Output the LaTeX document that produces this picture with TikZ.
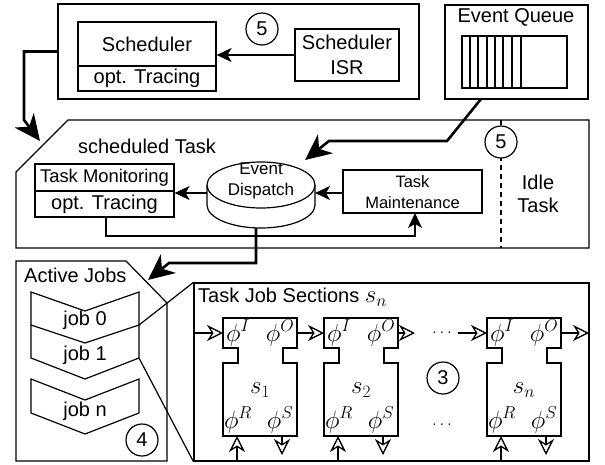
\documentclass[tikz,border=0pt]{standalone}
\usepackage[no-math]{fontspec}
\setmainfont{Liberation Sans}
\usetikzlibrary{arrows.meta}
\newcommand\jsec[3]{%
  \draw[secbox] (#2,318) -- (#2+74,318) -- (#2+74,348) -- (#2+60,348) -- (#2+60,363) -- (#2+74,363)
     -- (#2+74,436) -- (#2,436) -- (#2,363) -- (#2+15,363) -- (#2+15,348) -- (#2,348) -- cycle;
  \coordinate (#1in) at (#2,333);
  \coordinate (#1out) at (#2+74,333);
  \coordinate (#1r) at (#2+14,436);
  \coordinate (#1s) at (#2+59,436);
  \coordinate (#1rb) at (#2+14,460);
  \coordinate (#1sb) at (#2+59,455);
  \node[mlbl] (#1I) at (#2+15,333) {$\phi^I$};
  \node[mlbl] (#1O) at (#2+57,333) {$\phi^O$};
  \node[mlbl] (#1lab) at (#2+37,390) {$s_{#3}$};
  \node[mlbl] (#1R) at (#2+15,420) {$\phi^R$};
  \node[mlbl] (#1S) at (#2+57,420) {$\phi^S$};
  \draw[openarr] (#1rb) -- (#1r);
  \draw[openarr] (#1s) -- (#1sb);
}
\begin{document}
\begin{tikzpicture}[x=1pt,y=-1pt,
  box/.style={draw,line width=1.2pt,inner sep=0pt,fill=white},
  lbl/.style={inner sep=0pt,font=\fontsize{20}{23}\selectfont,align=center},
  mlbl/.style={inner sep=0pt,font=\fontsize{23}{25}\selectfont},
  circ/.style={draw,circle,line width=1.2pt,minimum size=32pt,inner sep=0pt,fill=white,font=\fontsize{20}{23}\selectfont},
  thinarr/.style={line width=1.2pt,-{Stealth[length=15pt,width=14pt,inset=4pt]}},
  thickarr/.style={line width=2.6pt,-{Stealth[length=26pt,width=24pt,inset=8pt]}},
  openarr/.style={line width=1.3pt,-{Stealth[open,length=16pt,width=16pt,inset=5pt]}},
  secbox/.style={draw,line width=1.8pt}]
\useasboundingbox (0,0) rectangle (605,464);

% ---------- top box ----------
\node[box,minimum width=361pt,minimum height=95pt] (top) at (238.5,51.5) {};
\node[box,minimum width=138pt,minimum height=44pt] (sched) at (147,44) {};
\node[lbl] (schedt) at (147,44) {Scheduler};
\node[box,minimum width=138pt,minimum height=25pt] (trace1) at (147,78.5) {};
\node[lbl] (trace1t) at (147,78.5) {opt. Tracing};
\node[box,minimum width=104pt,minimum height=52pt] (isr) at (347,55) {};
\node[lbl,font=\fontsize{20}{25}\selectfont] (isrt) at (347,55) {Scheduler\\ISR};
\node[circ] (c5a) at (262,29) {5};
\draw[thinarr] (isr.west) -- (isr.west -| sched.east);

% ---------- event queue ----------
\node[box,minimum width=143pt,minimum height=94pt] (eq) at (516.5,52) {};
\node[lbl] (eqt) at (516,17) {Event Queue};
\draw[line width=1.2pt] (462,36) rectangle (567,88);
\foreach \qx in {470,478,487,495,503,512,521} \draw[line width=1.2pt] (\qx,36) -- (\qx,88);

% ---------- scheduled task ----------
\draw[line width=1.2pt,fill=white] (68,120) -- (589,120) -- (589,248) -- (16,248) -- (16,172) -- cycle;
\node[lbl] (stt) at (147,146) {scheduled Task};
\draw[line width=1.2pt,dash pattern=on 5pt off 4pt] (501,120) -- (501,248);
\node[circ] (c5b) at (501,142) {5};
\node[lbl] (idle) at (538,194) {Idle\\Task};

\node[box,minimum width=139pt,minimum height=27pt] (tmon) at (104.5,177.5) {};
\node[lbl,font=\fontsize{18.4}{21}\selectfont] (tmont) at (104.5,177.5) {Task Monitoring};
\node[box,minimum width=139pt,minimum height=26pt] (trace2) at (104.5,204) {};
\node[lbl] (trace2t) at (104.5,204) {opt. Tracing};

\node[box,minimum width=139pt,minimum height=43pt] (maint) at (412.5,191.5) {};
\node[lbl,font=\fontsize{16.5}{21}\selectfont] (maintt) at (412.5,192) {Task\\Maintenance};

% cylinder
\draw[line width=1.2pt,fill=white] (207,185) -- (207,205) arc[start angle=180,end angle=360,x radius=54pt,y radius=23pt] -- (315,185);
\draw[line width=1.2pt,fill=white] (261,185) ellipse[x radius=54pt,y radius=23pt];
\node[lbl,font=\fontsize{17}{21}\selectfont] (disp) at (261,181) {Event\\Dispatch};
\coordinate (dispE) at (315,193);
\coordinate (dispW) at (207,193);
\coordinate (dispS) at (256,228);

\draw[thinarr] (maint.west |- dispE) -- (dispE);
\draw[thinarr] (dispW) -- (dispW -| tmon.east);
\draw[thinarr] (106,217) -- (106,236) -- (415,236) -- (415,213);

% thick arrows
\coordinate (stc) at (40,141);
\draw[thickarr] (top.west) -- (24,51.5) -- (24,120) -- (stc);
\coordinate (eqout) at (481,99);
\coordinate (dispN) at (305,160);
\draw[thickarr] (eqout) -- (447,141) -- (329,141) -- (dispN);
\coordinate (ajc) at (148,280);
\draw[thickarr] (dispS) -- (256,263) -- (169,263) -- (ajc);

% ---------- active jobs ----------
\draw[line width=1.2pt] (16,261) -- (126,261) -- (167,303) -- (167,461) -- (16,461) -- cycle;
\node[lbl,anchor=west] (ajt) at (24,275) {Active Jobs};
\draw[line width=1.2pt] (31,292) -- (85,311) -- (139,292) -- (139,325) -- (85,343) -- (31,325) -- cycle;
\draw[line width=1.2pt] (31,325) -- (31,358) -- (85,379) -- (139,358) -- (139,325);
\draw[line width=1.2pt] (31,379) -- (85,400) -- (139,379) -- (139,413) -- (85,434) -- (31,413) -- cycle;
\node[lbl] (j0) at (85,320) {job 0};
\node[lbl] (j1) at (85,355) {job 1};
\node[lbl] (jn) at (85,411) {job n};
\node[circ] (c4) at (142,440) {4};

% ---------- task job sections ----------
\node[box,minimum width=395pt,minimum height=178pt] (tjs) at (391.5,372) {};
\node[lbl,anchor=west] (tjst) at (198,297) {Task Job Sections {\fontsize{23}{25}\selectfont$s_n$}};
\draw[line width=1.2pt] (139,325) -- (tjs.north west);
\draw[line width=1.2pt] (139,358) -- (tjs.south west);

\jsec{sa}{223}{1}
\jsec{sb}{324}{2}
\jsec{sc}{487}{n}

\coordinate (tjsin) at (194,333);
\coordinate (tjsout) at (589,333);
\coordinate (gapa) at (415,333);
\coordinate (gapb) at (458,333);
\draw[openarr] (tjsin) -- (sain);
\draw[openarr] (saout) -- (sbin);
\draw[openarr] (sbout) -- (gapa);
\draw[openarr] (gapb) -- (scin);
\draw[openarr] (scout) -- (tjsout);
\node[inner sep=0pt,font=\fontsize{16}{18}\selectfont] (dots1) at (442,333) {$\dots$};
\node[inner sep=0pt,font=\fontsize{16}{18}\selectfont] (dots2) at (442,425) {$\dots$};
\node[circ] (c3) at (443,378) {3};
\end{tikzpicture}
\end{document}
